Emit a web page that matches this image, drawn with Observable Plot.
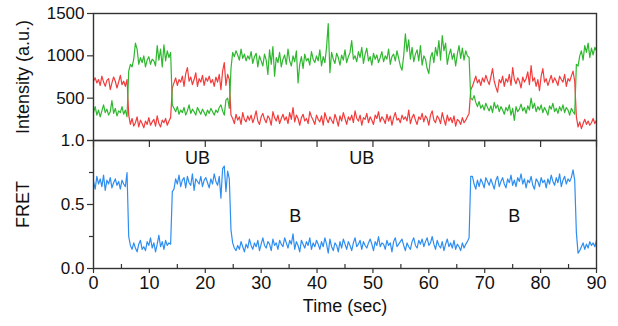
<!DOCTYPE html>
<html>
<head>
<meta charset="utf-8">
<script src="https://cdn.jsdelivr.net/npm/d3@7"></script>
<script src="https://cdn.jsdelivr.net/npm/@observablehq/plot@0.6"></script>
<style>
  html, body { margin: 0; padding: 0; background: #fff; }
  #chart { position: relative; width: 618px; height: 326px; }
  #chart svg { position: absolute; left: 0; }
</style>
</head>
<body>
<div id="chart"></div>
<script>
// frame interval (s)
const sampleInterval = 0.3;

// Donor (green) intensity, a.u.
const green = [
  330,400,300,360,280,350,420,330,370,300,340,470,320,380,290,350,330,400,310,360,280,
  820,900,870,960,1150,1080,900,980,920,1000,870,950,990,900,960,940,880,1120,950,1080,870,1130,940,1060,980,1040,
  420,
  380,340,400,310,360,330,390,300,350,420,320,370,340,300,390,350,310,370,330,290,360,320,380,340,300,360,330,390,420,350,300,480,500,380,
  850,
  1040,990,1060,1010,950,1080,970,1020,940,1000,
  960,1050,910,990,1030,870,1000,940,880,1020,
  950,780,1070,900,1110,760,980,920,1040,870,
  960,1010,900,1080,940,880,1000,930,1060,680,
  900,990,850,1020,940,970,890,1050,960,920,
  1000,940,1070,880,990,920,1100,1380,800,1040,
  960,910,1030,980,890,1010,950,1070,920,990,
  1040,1180,960,1000,930,1050,980,1100,910,1020,
  1090,940,990,890,1030,960,1010,920,980,1050,
  930,1000,960,1080,900,990,1020,940,1060,970,
  880,830,1000,1260,1050,1190,960,1100,930,1020,
  1070,940,1120,890,1000,960,850,790,980,1040,
  920,1100,1000,1180,950,1240,1060,1150,900,1010,
  1080,960,1030,880,1020,1120,970,1090,950,1060,
  1000,980,
  500,
  480,530,450,400,460,380,420,360,440,390,
  350,410,330,450,380,420,340,400,360,310,
  390,350,420,300,380,236,400,340,370,430,
  350,390,320,410,360,500,380,440,340,400,
  360,420,330,390,350,300,410,370,440,340,
  380,320,400,350,420,330,390,360,300,380,
  340,310,
  900,
  880,1000,1060,950,1120,1040,1150,980,1090,1010,1100,1060
];

// Acceptor (red) intensity, a.u.
const red = [
  700,740,680,720,650,760,690,640,710,730,600,680,750,700,620,690,770,660,700,640,720,
  300,190,260,170,210,280,160,240,200,150,230,190,270,180,220,250,170,290,200,160,240,210,260,180,230,270,
  620,
  680,740,650,720,690,760,640,790,860,700,750,660,720,800,640,730,690,770,650,740,700,760,680,720,640,750,690,780,600,820,920,650,780,720,
  300,
  260,200,310,240,280,190,330,250,220,290,
  240,300,210,270,350,230,190,280,320,250,
  210,290,260,180,340,270,230,300,200,260,
  310,240,280,200,330,250,390,220,300,260,
  180,270,310,230,260,200,340,280,240,190,
  300,250,220,290,180,330,260,210,280,240,
  200,310,250,170,290,230,330,260,190,280,
  240,300,210,350,260,230,300,180,270,250,
  320,210,280,240,190,300,260,340,220,280,
  250,200,310,230,290,180,270,330,240,260,
  210,300,250,280,230,360,200,270,310,240,
  190,280,250,320,220,290,260,180,300,350,
  240,210,290,260,200,330,250,180,300,230,
  270,210,290,170,250,230,190,270,210,240,
  280,320,
  600,
  640,700,760,680,720,650,740,690,770,710,
  660,750,850,700,630,570,720,680,760,640,
  730,690,780,650,860,720,670,740,700,620,
  750,690,730,810,660,885,700,740,640,720,
  590,760,850,690,730,650,710,770,680,740,
  700,650,760,720,690,780,640,730,700,760,
  820,700,
  280,
  160,220,140,200,250,190,230,180,210,260,200,240
];

// FRET efficiency
const fret = [
  0.68,0.62,0.72,0.66,0.70,0.64,0.73,0.61,0.69,0.66,0.71,0.63,0.67,0.70,0.65,0.68,0.62,0.69,0.66,0.64,0.75,
  0.25,0.18,0.15,0.20,0.16,0.13,0.19,0.22,0.15,0.17,0.14,0.21,0.18,0.24,0.16,0.20,0.13,0.19,0.26,0.17,0.21,0.15,0.22,0.18,0.20,0.19,
  0.60,
  0.62,0.70,0.66,0.73,0.64,0.69,0.71,0.63,0.72,0.67,0.65,0.74,0.61,0.70,0.68,0.66,0.72,0.64,0.69,0.71,0.67,0.63,0.70,0.66,0.74,0.68,0.65,0.72,0.55,0.78,0.80,0.60,0.76,0.70,
  0.30,
  0.20,0.16,0.14,0.18,0.15,0.21,0.17,0.13,0.19,0.16,
  0.23,0.18,0.15,0.20,0.17,0.22,0.14,0.19,0.24,0.18,
  0.16,0.21,0.19,0.14,0.23,0.18,0.20,0.15,0.22,0.19,
  0.17,0.24,0.20,0.16,0.22,0.19,0.27,0.15,0.21,0.18,
  0.13,0.22,0.19,0.16,0.21,0.18,0.24,0.15,0.20,0.17,
  0.22,0.19,0.15,0.21,0.17,0.24,0.19,0.12,0.23,0.17,
  0.14,0.20,0.18,0.13,0.21,0.16,0.23,0.19,0.15,0.21,
  0.18,0.14,0.20,0.24,0.17,0.19,0.22,0.15,0.21,0.18,
  0.16,0.20,0.23,0.19,0.14,0.21,0.18,0.25,0.17,0.20,
  0.19,0.15,0.22,0.18,0.20,0.13,0.21,0.24,0.17,0.19,
  0.21,0.23,0.18,0.14,0.20,0.17,0.15,0.21,0.24,0.18,
  0.16,0.22,0.19,0.23,0.17,0.21,0.24,0.18,0.20,0.25,
  0.19,0.15,0.22,0.18,0.16,0.21,0.14,0.19,0.23,0.17,
  0.20,0.16,0.22,0.15,0.19,0.17,0.14,0.20,0.16,0.19,
  0.21,0.24,
  0.72,
  0.72,0.66,0.62,0.69,0.64,0.70,0.67,0.63,0.71,0.68,
  0.65,0.70,0.66,0.62,0.69,0.72,0.64,0.68,0.71,0.66,
  0.63,0.70,0.67,0.73,0.65,0.69,0.64,0.71,0.68,0.74,
  0.66,0.70,0.63,0.69,0.67,0.72,0.65,0.62,0.70,0.68,
  0.64,0.71,0.67,0.69,0.63,0.70,0.66,0.73,0.68,0.65,
  0.71,0.67,0.74,0.64,0.69,0.72,0.66,0.70,0.68,0.71,
  0.77,0.69,
  0.28,
  0.12,0.14,0.17,0.20,0.15,0.19,0.16,0.21,0.18,0.20,0.17,0.22
];

// State annotations
const stateLabels = ["UB", "UB", "B", "B"];
const stateTimes = [18.6, 48, 36.1, 75.3];
const stateFret = [0.86, 0.86, 0.41, 0.41];

// Axis ticks
const timeTicks = [0, 10, 20, 30, 40, 50, 60, 70, 80, 90];
const timeMinorTicks = [5, 15, 25, 35, 45, 55, 65, 75, 85];
const intensityTicks = [0, 500, 1000, 1500];
const fretTicks = [0, 0.5, 1];
const fretMinorTicks = [0.25, 0.75];

const timeLabel = "Time (sec)";
const intensityLabel = "Intensity (a.u.)";
const fretLabel = "FRET";

// ---------------------------------------------------------------
const traces = green.map((g, i) => ({ t: i * sampleInterval, green: g, red: red[i], fret: fret[i] }));
const states = stateLabels.map((s, i) => ({ label: s, t: stateTimes[i], fret: stateFret[i] }));

const W = 618;
const FONT = "'Liberation Sans', Arial, Helvetica, sans-serif";
const AX = "#333";
const ML = 93, MR = 22;

const topPlot = Plot.plot({
  width: W, height: 141,
  marginTop: 13, marginBottom: 1, marginLeft: ML, marginRight: MR,
  style: { fontFamily: FONT, background: "transparent", overflow: "visible", color: "#111" },
  x: { domain: [0, 90], axis: null },
  y: { domain: [0, 1500], axis: null },
  marks: [
    Plot.lineY(traces, { x: "t", y: "red", stroke: "#f23c3c", strokeWidth: 1.2 }),
    Plot.lineY(traces, { x: "t", y: "green", stroke: "#2fb82f", strokeWidth: 1.2 }),
    Plot.axisY({ ticks: intensityTicks, tickFormat: d => d === 0 ? "" : String(d), tickSize: 6, tickPadding: 3,
      fontSize: 17, stroke: AX, strokeWidth: 1.2, label: null }),
    Plot.frame({ stroke: AX, strokeWidth: 1.4 }),
    Plot.text([intensityLabel], { text: d => d, frameAnchor: "left", dx: -70, rotate: -90,
      textAnchor: "middle", fontSize: 18, fill: "#111" })
  ]
});

const bottomPlot = Plot.plot({
  width: W, height: 196,
  marginTop: 10, marginBottom: 58, marginLeft: ML, marginRight: MR,
  style: { fontFamily: FONT, background: "transparent", overflow: "visible", color: "#111" },
  x: { domain: [0, 90], axis: null },
  y: { domain: [0, 1], axis: null },
  marks: [
    Plot.lineY(traces, { x: "t", y: "fret", stroke: "#2e8ef0", strokeWidth: 1.2 }),
    Plot.text(states, { x: "t", y: "fret", text: "label", fontSize: 18, fill: "#111" }),
    Plot.axisY({ ticks: fretTicks, tickFormat: d3.format(".1f"), tickSize: 6, tickPadding: 3,
      fontSize: 17, stroke: AX, strokeWidth: 1.2, label: null }),
    Plot.axisY({ ticks: fretMinorTicks, text: null, tickSize: 4, stroke: AX, strokeWidth: 1.2, label: null }),
    Plot.axisX({ ticks: timeTicks, anchor: "bottom", tickSize: 5, tickPadding: 3, fontSize: 18,
      stroke: AX, strokeWidth: 1.2, label: null }),
    Plot.axisX({ ticks: timeMinorTicks, anchor: "bottom", text: null, tickSize: -4, stroke: AX, strokeWidth: 1.2, label: null }),
    Plot.axisX({ ticks: timeTicks, anchor: "top", text: null, tickSize: -6, stroke: AX, strokeWidth: 1.2, label: null }),
    Plot.frame({ stroke: AX, strokeWidth: 1.4 }),
    Plot.text([fretLabel], { text: d => d, frameAnchor: "left", dx: -70, rotate: -90,
      textAnchor: "middle", fontSize: 18, fill: "#111" }),
    Plot.text([timeLabel], { text: d => d, frameAnchor: "bottom", dy: 43,
      textAnchor: "middle", fontSize: 18, fill: "#111" })
  ]
});

const chart = document.getElementById("chart");
topPlot.style.top = "0px";
bottomPlot.style.top = "130px";
chart.appendChild(topPlot);
chart.appendChild(bottomPlot);
</script>
</body>
</html>
